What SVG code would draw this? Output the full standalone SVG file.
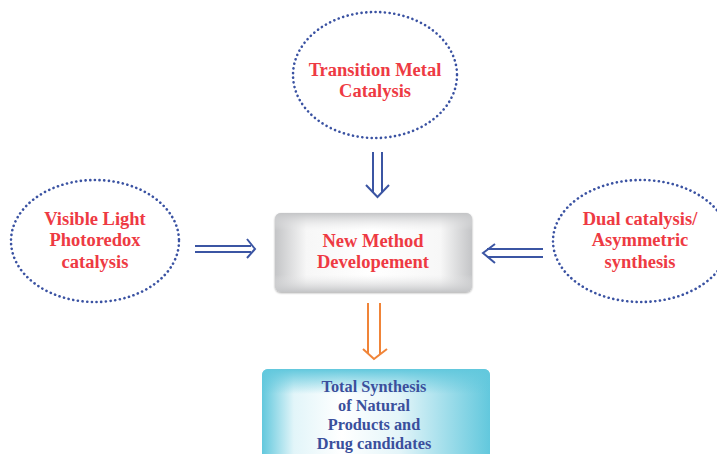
<svg xmlns="http://www.w3.org/2000/svg" width="717" height="454" viewBox="0 0 717 454">
<style>
.ell{fill:none;stroke:#3a52a2;stroke-width:2.6;stroke-dasharray:0.1 4.6;stroke-linecap:round}
.red{font-family:"Liberation Serif",serif;font-weight:bold;font-size:18.5px;fill:#ee3a43;text-anchor:middle}
.blue{font-family:"Liberation Serif",serif;font-weight:bold;font-size:16.3px;fill:#3a4f9c;text-anchor:middle}
.ab{fill:none;stroke:#3b55a3;stroke-width:2}
.ao{fill:none;stroke:#f08438;stroke-width:2}
</style>
<defs>
<linearGradient id="gh" x1="0" y1="0" x2="1" y2="0">
<stop offset="0" stop-color="#c4c5c7"/>
<stop offset="0.16" stop-color="#f7f7f7"/>
<stop offset="0.5" stop-color="#ffffff"/>
<stop offset="0.84" stop-color="#f7f7f7"/>
<stop offset="1" stop-color="#c4c5c7"/>
</linearGradient>
<linearGradient id="gv" x1="0" y1="0" x2="0" y2="1">
<stop offset="0" stop-color="#c4c5c7" stop-opacity="1"/>
<stop offset="0.22" stop-color="#e8e8e9" stop-opacity="0"/>
<stop offset="0.78" stop-color="#e8e8e9" stop-opacity="0"/>
<stop offset="1" stop-color="#c4c5c7" stop-opacity="1"/>
</linearGradient>
<linearGradient id="ch" x1="0" y1="0" x2="1" y2="0">
<stop offset="0" stop-color="#62c8dd"/>
<stop offset="0.14" stop-color="#e2f5f9"/>
<stop offset="0.35" stop-color="#ffffff"/>
<stop offset="0.6" stop-color="#e4f5f9"/>
<stop offset="1" stop-color="#62c8dd"/>
</linearGradient>
<linearGradient id="cv" x1="0" y1="0" x2="0" y2="1">
<stop offset="0" stop-color="#62c8dd" stop-opacity="1"/>
<stop offset="0.25" stop-color="#62c8dd" stop-opacity="0"/>
<stop offset="1" stop-color="#62c8dd" stop-opacity="0"/>
</linearGradient>
<filter id="sh" x="-10%" y="-10%" width="120%" height="130%">
<feGaussianBlur in="SourceAlpha" stdDeviation="1.2"/>
<feOffset dx="0" dy="1" result="b"/>
<feComponentTransfer><feFuncA type="linear" slope="0.35"/></feComponentTransfer>
<feMerge><feMergeNode/><feMergeNode in="SourceGraphic"/></feMerge>
</filter>
</defs>
<rect width="717" height="454" fill="#ffffff"/>

<g id="connectors">
<g id="arrow-top">
<path class="ab" d="M373 152 V193 M382 152 V193 M366 185 L377.5 197 L389 185"/>
</g>
<g id="arrow-left">
<path class="ab" d="M195 246 H251 M195 252 H251 M247 239 L255 249 L247 258"/>
</g>
<g id="arrow-right">
<path class="ab" d="M543 249 H487 M543 257 H487 M495 244 L483 253 L495 263"/>
</g>
<g id="arrow-down">
<path class="ao" d="M368 303 V354 M380 303 V354 M363 349 L374 359 L387 349"/>
</g>
</g>

<g id="node-tm">
<ellipse class="ell" cx="375" cy="75" rx="82" ry="63"/>
<text class="red" x="375" y="76">Transition Metal</text>
<text class="red" x="375" y="97">Catalysis</text>
</g>

<g id="node-vl">
<ellipse class="ell" cx="95" cy="241" rx="84" ry="61"/>
<text class="red" x="95" y="225">Visible Light</text>
<text class="red" x="95" y="246">Photoredox</text>
<text class="red" x="95" y="268">catalysis</text>
</g>

<g id="node-dc">
<ellipse class="ell" cx="641" cy="241" rx="88" ry="61"/>
<text class="red" x="640" y="225">Dual catalysis/</text>
<text class="red" x="640" y="246">Asymmetric</text>
<text class="red" x="640" y="268">synthesis</text>
</g>

<g id="node-nmd">
<rect x="275" y="213" width="197" height="79" rx="6" fill="url(#gh)" filter="url(#sh)"/>
<rect x="275" y="213" width="197" height="79" rx="6" fill="url(#gv)"/>
<text class="red" x="373" y="247">New Method</text>
<text class="red" x="373" y="268">Developement</text>
</g>

<g id="node-ts">
<rect x="262" y="369" width="228" height="100" rx="6" fill="url(#ch)"/>
<rect x="262" y="369" width="228" height="100" rx="6" fill="url(#cv)"/>
<text class="blue" x="374" y="392">Total Synthesis</text>
<text class="blue" x="374" y="411">of Natural</text>
<text class="blue" x="374" y="430">Products and</text>
<text class="blue" x="374" y="449">Drug candidates</text>
</g>
</svg>
